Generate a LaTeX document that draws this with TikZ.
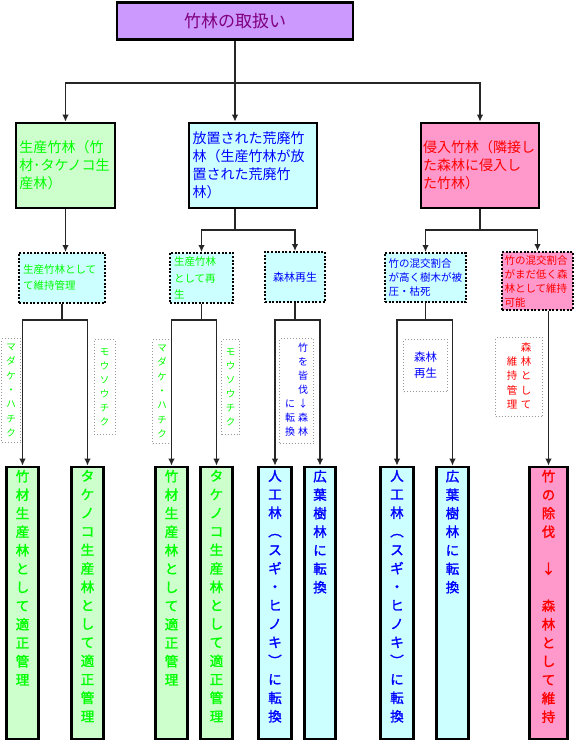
\documentclass[tikz,border=0pt]{standalone}
\usepackage{fontspec}
\setmainfont{Noto Sans CJK JP}
\newfontfamily\jpbold[FakeBold=1.6]{Noto Sans CJK JP}
\usetikzlibrary{arrows.meta}

\definecolor{titlefill}{HTML}{CC99FF}
\definecolor{titletext}{HTML}{800080}
\definecolor{greenfill}{HTML}{CCFFCC}
\definecolor{greentext}{HTML}{00FF00}
\definecolor{cyanfill}{HTML}{CCFFFF}
\definecolor{bluetext}{HTML}{0000FF}
\definecolor{pinkfill}{HTML}{FF99CC}
\definecolor{redtext}{HTML}{FF0000}

% tall boxes: characters stacked from the top
\newcommand\tate[1]{\parbox[c][266pt][t]{26pt}{\centering #1}}

\tikzset{
  solidbox/.style={draw=black, line width=2.6pt, inner sep=0pt},
  catbox/.style={solidbox, align=left, minimum height=85pt,
    font=\fontsize{14}{18}\selectfont},
  tallbox/.style={solidbox, minimum height=272pt,
    font=\jpbold\fontsize{13.5}{18.5}\selectfont},
  dotbox/.style={draw=black, line width=2pt, dash pattern=on 2pt off 1.6pt,
    inner sep=0pt, align=left},
  notebox/.style={draw=gray!80, line width=1pt, dotted, fill=white,
    inner sep=0pt, align=center},
  link/.style={line width=1.6pt, draw=black!85},
  arrowlink/.style={link, -{Latex[length=7pt,width=6.5pt]}},
}

\begin{document}
\begin{tikzpicture}[x=1pt, y=-1pt]
  \useasboundingbox (0,0) rectangle (578,746);

  % title
  \node[solidbox, fill=titlefill, text=titletext, minimum width=236pt,
    minimum height=37pt, font=\fontsize{17}{20}\selectfont] (top) at (235,21) {竹林の取扱い};

  % three kinds of bamboo forest
  \node[catbox, fill=greenfill, text=greentext, minimum width=99pt, text width=92pt]
    (seisan) at (65.5,165.5) {生産竹林（竹\\材･タケノコ生\\産林）};
  \node[catbox, fill=cyanfill, text=bluetext, minimum width=128pt, text width=121pt]
    (kouhai) at (253,165.5) {放置された荒廃竹\\林（生産竹林が放\\置された荒廃竹\\林）};
  \node[catbox, fill=pinkfill, text=redtext, minimum width=118pt, text width=114pt]
    (shinnyu) at (480,165.5) {侵入竹林（隣接し\\た森林に侵入し\\た竹林）};

  % second level, dotted boxes
  \node[dotbox, fill=cyanfill, text=greentext, minimum width=86pt, minimum height=50pt,
    text width=78pt, font=\fontsize{10.5}{16}\selectfont]
    (ijikanri) at (62,278) {生産竹林として\\て維持管理};
  \node[dotbox, fill=cyanfill, text=greentext, minimum width=63pt, minimum height=50pt,
    text width=55pt, font=\fontsize{10.5}{16.5}\selectfont]
    (saiseisan) at (201.5,278) {生産竹林\\として再\\生};
  \node[dotbox, fill=cyanfill, text=bluetext, minimum width=60pt, minimum height=50pt,
    align=center, font=\fontsize{11}{16}\selectfont]
    (shinrin) at (295,277) {森林再生};
  \node[dotbox, fill=cyanfill, text=bluetext, minimum width=81pt, minimum height=49pt,
    text width=74pt, font=\fontsize{10.5}{14}\selectfont]
    (hiatsu) at (425.5,277.5) {竹の混交割合\\が高く樹木が被\\圧・枯死};
  \node[dotbox, fill=pinkfill, text=redtext, minimum width=71pt, minimum height=58pt,
    text width=66pt, font=\fontsize{10.5}{14}\selectfont]
    (ijikanou) at (537.5,281) {竹の混交割合\\がまだ低く森\\林として維持\\可能};

  % small notes beside the lines
  \node[notebox, text=greentext, minimum width=19pt, minimum height=104pt,
    font=\fontsize{9.5}{14.3}\selectfont] (madake1) at (11,390.5) {マ\\ダ\\ケ\\・\\ハ\\チ\\ク};
  \node[notebox, text=greentext, minimum width=21pt, minimum height=95pt,
    font=\fontsize{9.5}{14}\selectfont] (mousou1) at (104.5,387) {モ\\ウ\\ソ\\ウ\\チ\\ク};
  \node[notebox, text=greentext, minimum width=19pt, minimum height=104pt,
    font=\fontsize{9.5}{14.3}\selectfont] (madake2) at (162,391.5) {マ\\ダ\\ケ\\・\\ハ\\チ\\ク};
  \node[notebox, text=greentext, minimum width=18pt, minimum height=95pt,
    font=\fontsize{9.5}{14}\selectfont] (mousou2) at (230.5,387) {モ\\ウ\\ソ\\ウ\\チ\\ク};
  \node[notebox, text=bluetext, minimum width=34pt, minimum height=105pt,
    font=\fontsize{10}{14}\selectfont] (kaibatsu) at (296.5,391)
    {\begin{tabular}{@{}c@{\hspace{3pt}}c@{}}
      & 竹\\ & を\\ & 皆\\ & 伐\\ に & ↓\\ 転 & 森\\ 換 & 林
    \end{tabular}};
  \node[notebox, text=bluetext, minimum width=44pt, minimum height=52pt,
    font=\fontsize{11.5}{16}\selectfont] (saisei) at (425.5,365.5) {森林\\再生};
  \node[notebox, text=redtext, minimum width=47pt, minimum height=79pt,
    font=\fontsize{10.5}{14.3}\selectfont] (iji) at (519,377)
    {\begin{tabular}{@{}c@{\hspace{3.5pt}}c@{}}
      & 森\\ 維 & 林\\ 持 & と\\ 管 & し\\ 理 & て
    \end{tabular}};

  % tall result boxes
  \node[tallbox, fill=greenfill, text=greentext, minimum width=32pt] (take1) at (22.5,603)
    {\tate{竹\\材\\生\\産\\林\\と\\し\\て\\適\\正\\管\\理}};
  \node[tallbox, fill=greenfill, text=greentext, minimum width=32pt] (takenoko1) at (87.5,603)
    {\tate{タ\\ケ\\ノ\\コ\\生\\産\\林\\と\\し\\て\\適\\正\\管\\理}};
  \node[tallbox, fill=greenfill, text=greentext, minimum width=32pt] (take2) at (171.5,603)
    {\tate{竹\\材\\生\\産\\林\\と\\し\\て\\適\\正\\管\\理}};
  \node[tallbox, fill=greenfill, text=greentext, minimum width=32pt] (takenoko2) at (216.5,603)
    {\tate{タ\\ケ\\ノ\\コ\\生\\産\\林\\と\\し\\て\\適\\正\\管\\理}};
  \node[tallbox, fill=cyanfill, text=bluetext, minimum width=33pt] (jinkou1) at (275,603)
    {\tate{人\\工\\林\\︵\\ス\\ギ\\・\\ヒ\\ノ\\キ\\︶\\に\\転\\換}};
  \node[tallbox, fill=cyanfill, text=bluetext, minimum width=31.5pt] (kouyou1) at (320,603)
    {\tate{広\\葉\\樹\\林\\に\\転\\換}};
  \node[tallbox, fill=cyanfill, text=bluetext, minimum width=33pt] (jinkou2) at (397,603)
    {\tate{人\\工\\林\\︵\\ス\\ギ\\・\\ヒ\\ノ\\キ\\︶\\に\\転\\換}};
  \node[tallbox, fill=cyanfill, text=bluetext, minimum width=32pt] (kouyou2) at (452.5,603)
    {\tate{広\\葉\\樹\\林\\に\\転\\換}};
  \node[tallbox, fill=pinkfill, text=redtext, minimum width=38pt] (jobatsu) at (548.5,603)
    {\tate{竹\\の\\除\\伐\\\mbox{}\\↓\\\mbox{}\\森\\林\\と\\し\\て\\維\\持}};

  % connectors, top level
  \coordinate (row1) at (0,83);
  \draw[link] (top.south) -- (top.south |- row1);
  \draw[arrowlink] (top.south |- row1) -| (seisan.north);
  \draw[arrowlink] (top.south |- row1) -- (top.south |- kouhai.north);
  \draw[arrowlink] (top.south |- row1) -| (shinnyu.north);

  % connectors, second level
  \coordinate (row2) at (0,230);
  \draw[arrowlink] (seisan.south) -- (seisan.south |- ijikanri.north);
  \draw[link] (kouhai.south -| top.south) -- (top.south |- row2);
  \draw[arrowlink] (top.south |- row2) -| (saiseisan.north);
  \draw[arrowlink] (top.south |- row2) -| (shinrin.north);
  \draw[link] (shinnyu.south) -- (shinnyu.south |- row2);
  \draw[arrowlink] (shinnyu.south |- row2) -| (hiatsu.north);
  \draw[arrowlink] (shinnyu.south |- row2) -| (ijikanou.north);

  % connectors, third level
  \coordinate (row3) at (0,320);
  \draw[link] (ijikanri.south) -- (ijikanri.south |- row3);
  \draw[arrowlink] (ijikanri.south |- row3) -| (take1.north);
  \draw[arrowlink] (ijikanri.south |- row3) -| (takenoko1.north);
  \draw[link] (saiseisan.south) -- (saiseisan.south |- row3);
  \draw[arrowlink] (saiseisan.south |- row3) -| (take2.north);
  \draw[arrowlink] (saiseisan.south |- row3) -| (takenoko2.north);
  \draw[link] (shinrin.south) -- (shinrin.south |- row3);
  \draw[arrowlink] (shinrin.south |- row3) -| (jinkou1.north);
  \draw[arrowlink] (shinrin.south |- row3) -| (kouyou1.north);
  \draw[link] (hiatsu.south) -- (hiatsu.south |- row3);
  \draw[arrowlink] (hiatsu.south |- row3) -| (jinkou2.north);
  \draw[arrowlink] (hiatsu.south |- row3) -| (kouyou2.north);
  \draw[arrowlink] (jobatsu.north |- ijikanou.south) -- (jobatsu.north);
\end{tikzpicture}
\end{document}
